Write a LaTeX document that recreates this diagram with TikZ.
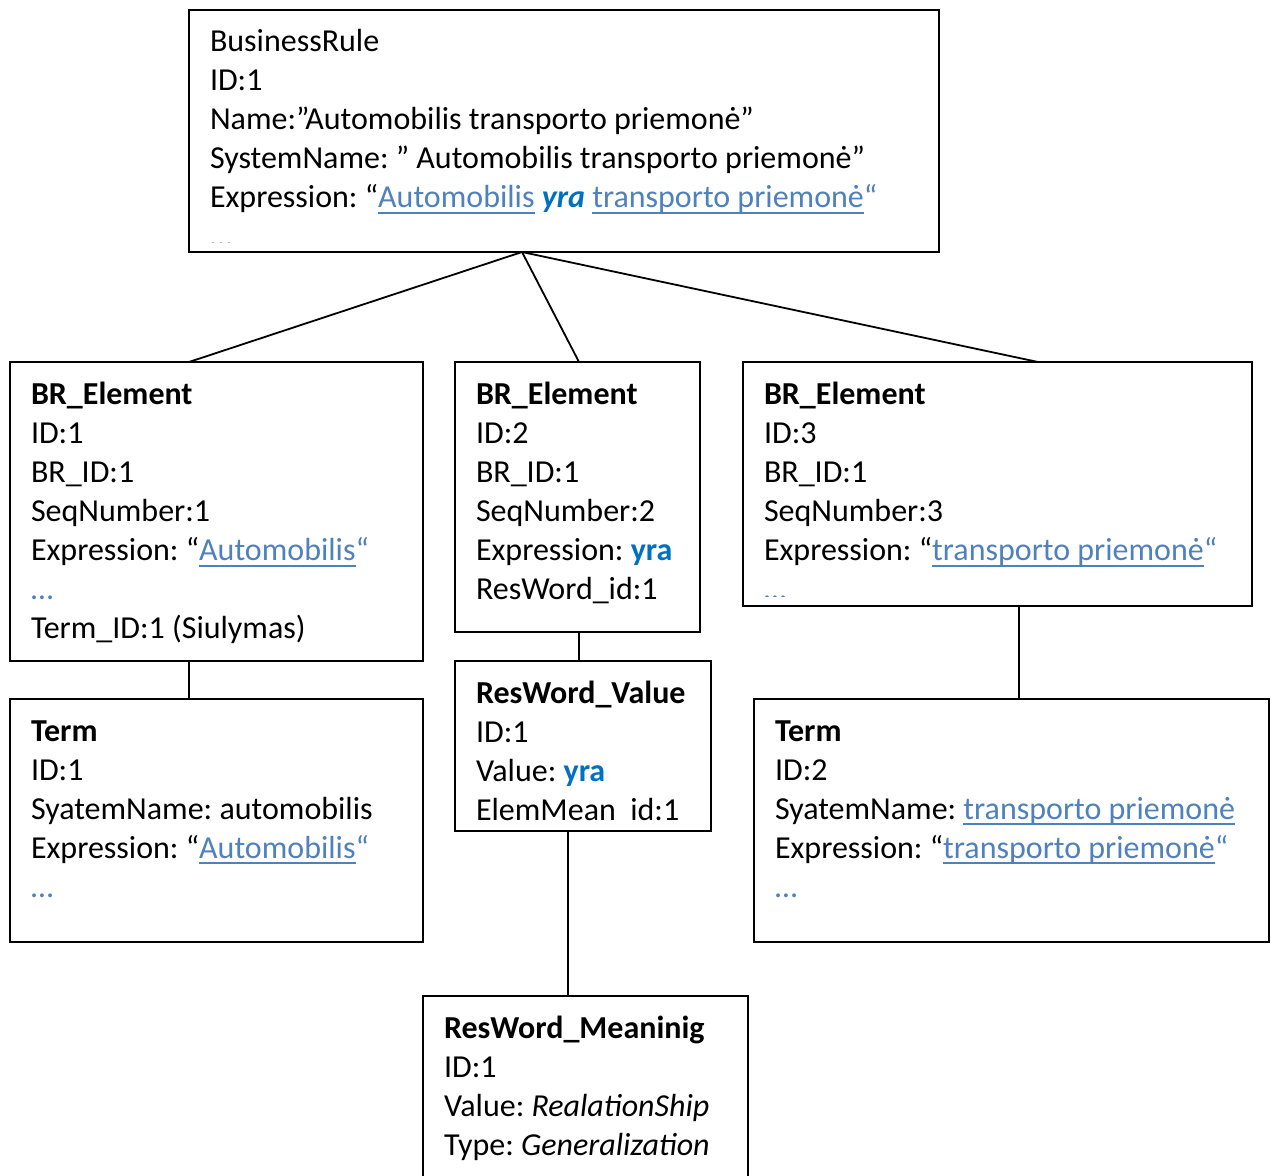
\documentclass[tikz,border=0pt]{standalone}
\usepackage{fontspec}
\setmainfont{Carlito}
\usetikzlibrary{calc}
\definecolor{linkblue}{HTML}{4F81BD}
\definecolor{yrablue}{HTML}{0070C0}
\frenchspacing
% underlined hyperlink-style text with a fixed underline depth
\newcommand\lnk[1]{{\color{linkblue}\setbox0\hbox{#1}\rlap{\rule[-6pt]{\wd0}{1.8pt}}\box0}}
\newcommand\closeq{{\color{linkblue}“}}
\newcommand\yraword{{\bfseries\color{yrablue}yra}}
\newcommand\moredots{{\color{linkblue}…}}
\begin{document}
\begin{tikzpicture}[x=1pt,y=-1pt,
  box/.style={draw=black,line width=1.9pt,minimum width=#1,anchor=north west,inner sep=0pt,outer sep=0pt},
  txt/.style={anchor=north west,inner sep=0pt,outer sep=0pt,align=left,
    font=\fontsize{32}{39}\selectfont},
  link/.style={draw=black,line width=1.8pt}]
\fill[white] (0,0) rectangle (1271,1175);
\useasboundingbox (0,0) rectangle (1271,1175);
\clip (0,0) rectangle (1271,1175);

% boxes
\node[box=750pt,minimum height=242pt] (br) at (189,10) {};
\node[box=413pt,minimum height=299pt] (el1) at (10,362) {};
\node[box=245pt,minimum height=270pt] (el2) at (455,362) {};
\node[box=509pt,minimum height=244pt] (el3) at (743,362) {};
\node[box=413pt,minimum height=243pt] (term1) at (10,699) {};
\node[box=256pt,minimum height=170pt] (rwv) at (455,661) {};
\node[box=515pt,minimum height=243pt] (term2) at (754,699) {};
\node[box=325pt,minimum height=200pt] (rwm) at (423,996) {};

% contents (strut fixes first baseline 27.3pt below the node top)
\node[txt] (brt) at (210,24.4) {\strut BusinessRule\\
ID:1\\
Name:”Automobilis transporto priemonė”\\
SystemName: ” Automobilis transporto priemonė”\\
Expression: “\lnk{Automobilis} {\bfseries\itshape\color{yrablue}yra} \lnk{transporto priemonė}\closeq};

\node[txt] (el1t) at (31,377.4) {\strut\textbf{BR\_Element}\\
ID:1\\
BR\_ID:1\\
SeqNumber:1\\
Expression: “\lnk{Automobilis}\closeq\\
\moredots\\
Term\_ID:1 (Siulymas)};

\node[txt] (el2t) at (476,377.4) {\strut\textbf{BR\_Element}\\
ID:2\\
BR\_ID:1\\
SeqNumber:2\\
Expression: \yraword\\
ResWord\_id:1};

\node[txt] (el3t) at (764,377.4) {\strut\textbf{BR\_Element}\\
ID:3\\
BR\_ID:1\\
SeqNumber:3\\
Expression: “\lnk{transporto priemonė}\closeq};

\node[txt] (term1t) at (31,713.7) {\strut\textbf{Term}\\
ID:1\\
SyatemName: automobilis\\
Expression: “\lnk{Automobilis}\closeq\\
\moredots};

\node[txt] (rwvt) at (476,675.7) {\strut\textbf{ResWord\_Value}\\
ID:1\\
Value: \yraword\\
ElemMean\ \ id:1};

\node[txt] (term2t) at (775,713.7) {\strut\textbf{Term}\\
ID:2\\
SyatemName: \lnk{transporto priemonė}\\
Expression: “\lnk{transporto priemonė}\closeq\\
\moredots};

\node[txt] (rwmt) at (444,1010.7) {\strut\textbf{ResWord\_Meaninig}\\
ID:1\\
Value: \textit{RealationShip}\\
Type: \textit{Generalization}};

% overflowing last lines, cut off by the box margin
\begin{scope}
\clip (190,200) rectangle (938,242);
\node[txt] (brdots) at (210,219.4) {\strut\moredots};
\end{scope}
\begin{scope}
\clip (744,560) rectangle (1251,596);
\node[txt] (el3dots) at (764,572.4) {\strut\moredots};
\end{scope}

% connectors
\coordinate (hub) at ([xshift=333pt]br.south west);
\draw[link] (hub) -- ([xshift=179pt]el1.north west);
\draw[link] (hub) -- ([xshift=124pt]el2.north west);
\draw[link] (hub) -- ([xshift=295pt]el3.north west);
\draw[link] ([xshift=179pt]el1.south west) -- ([xshift=179pt]term1.north west);
\draw[link] ([xshift=124pt]el2.south west) -- ([xshift=124pt]rwv.north west);
\draw[link] ([xshift=113pt]rwv.south west) -- ([xshift=145pt]rwm.north west);
\draw[link] ([xshift=276pt]el3.south west) -- ([xshift=265pt]term2.north west);
\end{tikzpicture}
\end{document}
